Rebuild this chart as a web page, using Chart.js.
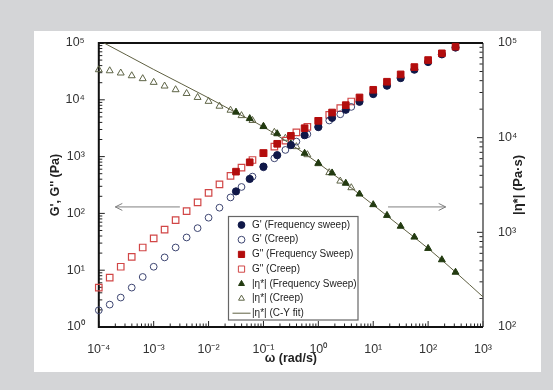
<!DOCTYPE html>
<html>
<head>
<meta charset="utf-8">
<script src="https://cdn.jsdelivr.net/npm/chart.js@4.4.0/dist/chart.umd.min.js"></script>
<style>
  html, body { margin: 0; padding: 0; background: #d4d5d7; }
  canvas { display: block; }
</style>
</head>
<body>
<canvas id="chart" width="553" height="390"></canvas>
<script>
// creep data, 5 points per decade
const omegaCreep = [1.0e-4, 1.58e-4, 2.51e-4, 3.98e-4, 6.31e-4, 1.0e-3, 1.58e-3, 2.51e-3, 3.98e-3, 6.31e-3,
  0.01, 0.0158, 0.0251, 0.0398, 0.0631, 0.1, 0.158, 0.251, 0.398, 0.631, 1.0, 1.58, 2.51, 3.98];
const gPrimeCreep = [1.97, 2.48, 3.3, 4.94, 7.6, 11.5, 16.8, 25.1, 37.7, 55, 84, 126, 191, 292, 444, 646,
  933, 1310, 1840, 2480, 3270, 4320, 5560, 7500];
const gDoubleCreep = [4.94, 7.4, 11.5, 17.2, 25.1, 36.2, 52, 76, 110, 156, 229, 324, 456, 638, 871, 1150,
  1500, 1910, 2660, 3330, 4270, 5430, 7130, 9330];
const etaCreep = [52200, 50900, 48200, 45100, 42000, 38400, 35100, 32100, 29300, 26600, 24200, 21500,
  19500, 17100, 15200, 13200, 11400, 9860, 8040, 6610, 5310, 4270, 3480, 2960];

// frequency sweep, 4 points per decade
const omegaSweep = [0.0316, 0.0562, 0.1, 0.178, 0.316, 0.562, 1, 1.78, 3.16, 5.62, 10, 17.8, 31.6, 56.2, 100, 178, 316];
const gPrimeSweep = [244, 404, 667, 1060, 1590, 2380, 3340, 4810, 6670, 9230, 12600, 17700, 24100, 33900, 46200, 63100, 83200];
const gDoubleSweep = [543, 794, 1150, 1680, 2320, 3160, 4260, 5970, 8050, 11000, 15000, 20800, 28000, 37700, 50100, 65800, 86100];
const etaSweep = [18600, 15900, 13100, 11000, 8590, 6840, 5370, 4240, 3300, 2540, 1960, 1510, 1160, 891, 676, 513, 379];

// Cross-Yasuda fit
const omegaFit = [1e-4, 3.16e-4, 1e-3, 3.16e-3, 0.01, 0.0316, 0.1, 0.316, 1, 3.16, 10, 31.6, 100, 316, 1000];
const etaFit = [107000, 75000, 52500, 37200, 26300, 18400, 13000, 8510, 5370, 3270, 1950, 1150, 676, 380, 208];

const xTicks = [1e-4, 1e-3, 1e-2, 1e-1, 1, 10, 100, 1000];
const leftTicks = [1, 10, 100, 1000, 1e4, 1e5];
const rightTicks = [100, 1000, 1e4, 1e5];

// arrows telling which axis goes with which curves (left axis units)
const arrowLeft = { from: 3.0e-3, to: 2.0e-4, y: 130 };
const arrowRight = { from: 18.6, to: 209, y: 130 };

const FONT = "'Liberation Sans', Arial, sans-serif";
const SUP = { "-": "\u207b", "0": "\u2070", "1": "\u00b9", "2": "\u00b2", "3": "\u00b3", "4": "\u2074", "5": "\u2075" };

function pts(xs, ys) { return xs.map((x, i) => ({ x, y: ys[i] })); }

function powLabel(v) {
  const e = Math.round(Math.log10(v));
  return "10" + String(e).split("").map(ch => SUP[ch]).join("");
}

function onlyDecades(list) {
  return s => { s.ticks = list.map(value => ({ value })); };
}

function logSteps(min, max) {
  const out = [];
  for (let e = Math.round(Math.log10(min)); e < Math.round(Math.log10(max)); e++)
    for (let m = 1; m < 10; m++) out.push({ v: m * Math.pow(10, e), major: m === 1 });
  out.push({ v: max, major: true });
  return out;
}

function drawMarker(c, style, x, y, r, fill, stroke) {
  c.beginPath();
  if (style === "circle") c.arc(x, y, r, 0, Math.PI * 2);
  else if (style === "rect") { const h = r * Math.SQRT1_2; c.rect(x - h, y - h, 2 * h, 2 * h); }
  else { c.moveTo(x, y - r); c.lineTo(x + r * 0.866, y + r / 2); c.lineTo(x - r * 0.866, y + r / 2); c.closePath(); }
  if (fill) { c.fillStyle = fill; c.fill(); }
  c.strokeStyle = stroke; c.lineWidth = 1; c.stroke();
}

function arrow(c, x1, x2, y) {
  const d = x2 > x1 ? -1 : 1;
  c.beginPath();
  c.moveTo(x1, y); c.lineTo(x2, y);
  c.moveTo(x2 + d * 7, y - 3.5); c.lineTo(x2, y); c.lineTo(x2 + d * 7, y + 3.5);
  c.stroke();
}

const paper = {
  id: "paper",
  beforeDraw(chart) {
    const c = chart.ctx;
    c.save();
    c.fillStyle = "#d4d5d7";
    c.fillRect(0, 0, chart.width, chart.height);
    c.fillStyle = "#fff";
    c.fillRect(34, 31, 507, 341);
    c.restore();
  }
};

const frame = {
  id: "frame",
  beforeDatasetsDraw(chart) {
    const { ctx: c, chartArea: a, scales } = chart;
    c.save();
    c.strokeStyle = "#222";
    c.lineWidth = 1;
    c.beginPath();
    logSteps(1e-4, 1e3).forEach(t => {
      const p = scales.x.getPixelForValue(t.v);
      c.moveTo(p, a.bottom); c.lineTo(p, a.bottom - (t.major ? 6 : 3.5));
    });
    logSteps(1, 1e5).forEach(t => {
      const p = scales.y.getPixelForValue(t.v);
      c.moveTo(a.left, p); c.lineTo(a.left + (t.major ? 6 : 3.5), p);
    });
    logSteps(100, 1e5).forEach(t => {
      const p = scales.y2.getPixelForValue(t.v);
      c.moveTo(a.right, p); c.lineTo(a.right - (t.major ? 6 : 3.5), p);
    });
    c.stroke();

    c.strokeStyle = "#555";
    c.lineWidth = 1.5;
    c.beginPath(); c.moveTo(a.right, a.top); c.lineTo(a.right, a.bottom); c.stroke();
    c.strokeStyle = "#111";
    c.lineWidth = 2;
    c.beginPath();
    c.moveTo(a.right, a.top); c.lineTo(a.left, a.top); c.lineTo(a.left, a.bottom); c.lineTo(a.right, a.bottom);
    c.stroke();

    c.strokeStyle = "#808080";
    c.lineWidth = 1;
    const yl = scales.y.getPixelForValue(arrowLeft.y);
    arrow(c, scales.x.getPixelForValue(arrowLeft.from), scales.x.getPixelForValue(arrowLeft.to), yl);
    arrow(c, scales.x.getPixelForValue(arrowRight.from), scales.x.getPixelForValue(arrowRight.to), yl);
    c.restore();
  },
  afterDraw(chart) {
    const { ctx: c, chartArea: a } = chart;
    c.save();
    // right title reads bottom to top like the left one
    c.translate(a.right + 35, (a.top + a.bottom) / 2);
    c.rotate(-Math.PI / 2);
    c.font = "bold 13px " + FONT;
    c.fillStyle = "#222";
    c.textAlign = "center";
    c.textBaseline = "middle";
    c.fillText("|\u03b7*| (Pa\u00b7s)", 0, 0);
    c.restore();

    // legend box
    const box = { x: 228.5, y: 216.5, w: 129.5, h: 103.5, row: 14.7 };
    c.save();
    c.fillStyle = "#fff";
    c.fillRect(box.x, box.y, box.w, box.h);
    c.strokeStyle = "#666";
    c.lineWidth = 1.2;
    c.strokeRect(box.x, box.y, box.w, box.h);
    c.font = "10px " + FONT;
    c.textBaseline = "middle";
    chart.data.datasets.forEach((ds, i) => {
      const y = box.y + 8.5 + i * box.row;
      if (ds.showLine) {
        c.strokeStyle = ds.borderColor; c.lineWidth = 1;
        c.beginPath(); c.moveTo(box.x + 4, y); c.lineTo(box.x + 22, y); c.stroke();
      } else {
        drawMarker(c, ds.pointStyle, box.x + 13, y, ds.pointStyle === "rect" ? 4.4 : 3.4,
          ds.backgroundColor === "transparent" ? null : ds.backgroundColor, ds.borderColor);
      }
      c.fillStyle = "#222";
      c.fillText(ds.label, box.x + 23.5, y);
    });
    c.restore();
  }
};

const ctx = document.getElementById("chart").getContext("2d");

new Chart(ctx, {
  type: "scatter",
  data: {
    datasets: [
      { label: "G' (Frequency sweep)", data: pts(omegaSweep, gPrimeSweep), yAxisID: "y", order: 1,
        pointStyle: "circle", pointRadius: 3.6, backgroundColor: "#101848", borderColor: "#101848", clip: false },
      { label: "G' (Creep)", data: pts(omegaCreep, gPrimeCreep), yAxisID: "y", order: 4,
        pointStyle: "circle", pointRadius: 3.4, backgroundColor: "transparent", borderColor: "#3e4672", borderWidth: 1, clip: false },
      { label: "G\" (Frequency Sweep)", data: pts(omegaSweep, gDoubleSweep), yAxisID: "y", order: 0,
        pointStyle: "rect", pointRadius: 4.7, backgroundColor: "#b30d0d", borderColor: "#b30d0d", clip: false },
      { label: "G\" (Creep)", data: pts(omegaCreep, gDoubleCreep), yAxisID: "y", order: 5,
        pointStyle: "rect", pointRadius: 4.6, backgroundColor: "transparent", borderColor: "#d14646", borderWidth: 1.2, clip: false },
      { label: "|\u03b7*| (Frequency Sweep)", data: pts(omegaSweep, etaSweep), yAxisID: "y2", order: 2,
        pointStyle: "triangle", pointRadius: 4, backgroundColor: "#223a10", borderColor: "#223a10", clip: false },
      { label: "|\u03b7*| (Creep)", data: pts(omegaCreep, etaCreep), yAxisID: "y2", order: 6,
        pointStyle: "triangle", pointRadius: 4, backgroundColor: "transparent", borderColor: "#5e6446", borderWidth: 1, clip: false },
      { label: "|\u03b7*| (C-Y fit)", data: pts(omegaFit, etaFit), yAxisID: "y2", order: 3,
        showLine: true, pointRadius: 0, borderColor: "#5f6042", borderWidth: 1, cubicInterpolationMode: "monotone" }
    ]
  },
  options: {
    responsive: false,
    animation: false,
    devicePixelRatio: 1,
    layout: { padding: { left: 34, top: 43, right: 12, bottom: 18 } },
    plugins: { legend: { display: false }, tooltip: { enabled: false } },
    scales: {
      x: {
        type: "logarithmic", position: "bottom", min: 1e-4, max: 1e3,
        afterBuildTicks: onlyDecades(xTicks),
        afterFit: s => { s.height = 45; },
        grid: { display: false }, border: { display: false },
        ticks: { callback: powLabel, autoSkip: false, maxRotation: 0, padding: 7, color: "#333", font: { family: FONT, size: 12.5 } },
        title: { display: true, text: "\u03c9 (rad/s)", color: "#222", padding: { bottom: 6 }, font: { family: FONT, size: 12.5, weight: "bold" } }
      },
      y: {
        type: "logarithmic", position: "left", min: 1, max: 1e5,
        afterBuildTicks: onlyDecades(leftTicks),
        afterFit: s => { s.width = 64.8; },
        grid: { display: false }, border: { display: false },
        ticks: { callback: powLabel, autoSkip: false, padding: 6, color: "#333", font: { family: FONT, size: 12.5 } },
        title: { display: true, text: "G', G'' (Pa)", color: "#222", padding: { top: 14 }, font: { family: FONT, size: 12.5, weight: "bold" } }
      },
      y2: {
        type: "logarithmic", position: "right", min: 100, max: 1e5,
        afterBuildTicks: onlyDecades(rightTicks),
        afterFit: s => { s.width = 58; },
        grid: { display: false }, border: { display: false },
        ticks: { callback: powLabel, autoSkip: false, padding: 7, color: "#333", font: { family: FONT, size: 12.5 } }
      }
    }
  },
  plugins: [paper, frame]
});
</script>
</body>
</html>
